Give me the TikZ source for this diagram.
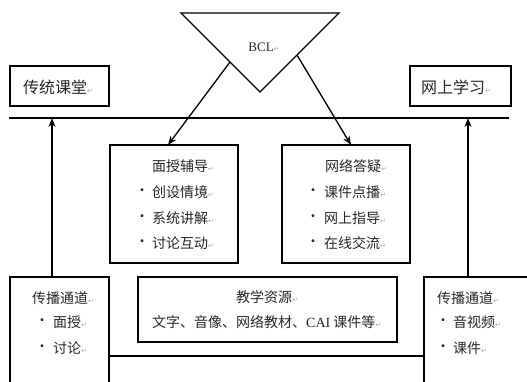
\documentclass[tikz,border=0pt]{standalone}
\usepackage{fontspec}
\setmainfont{Liberation Serif}
\newfontfamily\cjk{Noto Sans CJK SC}
\newfontfamily\dejavu{DejaVu Sans}
\usetikzlibrary{arrows.meta}
\newcommand\parmark{{\dejavu\fontsize{7pt}{8pt}\selectfont\color{gray!70}↵}}
\tikzset{
  box/.style={draw, line width=1.3pt, inner sep=0pt},
  txt/.style={font=\cjk\fontsize{14pt}{16pt}\selectfont, text=black!85, inner sep=0pt, anchor=west},
  bigtxt/.style={font=\cjk\fontsize{16pt}{18pt}\selectfont, text=black!85, inner sep=0pt, anchor=west},
  dot/.style={font=\cjk\fontsize{14pt}{16pt}\selectfont, text=black!85, inner sep=0pt},
  conn/.style={line width=1.3pt},
  arr/.style={conn, -{Stealth[length=9pt,width=7pt]}}
}
\begin{document}
\begin{tikzpicture}[x=1pt,y=-1pt]
\useasboundingbox (0,0) rectangle (527,381);
\clip (0,0) rectangle (527,381);
% triangle
\draw[conn, line join=miter] (181,13) -- (339,13) -- (260,92) -- cycle;
\coordinate (tl) at (230,62);
\coordinate (tr) at (297,55);
\node[inner sep=0pt, font=\fontsize{13pt}{15pt}\selectfont, text=black!85] (bcl) at (264,47) {BCL\parmark};
% top boxes
\node[box, minimum width=99pt, minimum height=40pt] (ctbox) at (59.5,86) {};
\node[bigtxt] (ct) at (23,87) {传统课堂\parmark};
\node[box, minimum width=101pt, minimum height=40pt] (wsbox) at (460.5,86) {};
\node[bigtxt] (ws) at (421,87) {网上学习\parmark};
% horizontal line
\coordinate (hl) at (9,118);
\coordinate (hr) at (509,118);
\draw[conn] (hl) -- (hr);
% middle boxes
\node[box, minimum width=128pt, minimum height=118pt] (ml) at (174,204) {};
\node[box, minimum width=128pt, minimum height=118pt] (mr) at (346,204) {};
\coordinate (mlt) at (168,145);
\coordinate (mrt) at (351,145);
\draw[arr] (tl) -- (mlt);
\draw[arr] (tr) -- (mrt);
\node[txt] (ml0) at (152,166) {面授辅导\parmark};
\node[dot] (mlb1) at (142,192) {·};
\node[txt] (ml1) at (152,192) {创设情境\parmark};
\node[dot] (mlb2) at (142,218) {·};
\node[txt] (ml2) at (152,218) {系统讲解\parmark};
\node[dot] (mlb3) at (142,243) {·};
\node[txt] (ml3) at (152,243) {讨论互动\parmark};
\node[txt] (mr0) at (325,166) {网络答疑\parmark};
\node[dot] (mrb1) at (313,192) {·};
\node[txt] (mr1) at (324,192) {课件点播\parmark};
\node[dot] (mrb2) at (313,218) {·};
\node[txt] (mr2) at (324,218) {网上指导\parmark};
\node[dot] (mrb3) at (313,243) {·};
\node[txt] (mr3) at (324,243) {在线交流\parmark};
% bottom boxes
\node[box, minimum width=99pt, minimum height=123pt] (bl) at (59.5,338.5) {};
\node[box, minimum width=116pt, minimum height=123pt] (br) at (482,338.5) {};
\node[box, minimum width=259pt, minimum height=65pt] (res) at (267.5,309.5) {};
\coordinate (by) at (0,356);
\draw[conn] (bl.east |- by) -- (br.west |- by);
\coordinate (lx) at (52,118);
\coordinate (rx) at (468,118);
\draw[arr] (bl.north -| lx) -- (lx);
\draw[arr] (br.north -| rx) -- (rx);
\node[txt] (bl0) at (32,298) {传播通道\parmark};
\node[dot] (blb1) at (42,322) {·};
\node[txt] (bl1) at (53,322) {面授\parmark};
\node[dot] (blb2) at (42,348) {·};
\node[txt] (bl2) at (53,348) {讨论\parmark};
\node[txt] (br0) at (437,298) {传播通道\parmark};
\node[dot] (brb1) at (443,322) {·};
\node[txt] (br1) at (453,322) {音视频\parmark};
\node[dot] (brb2) at (443,348) {·};
\node[txt] (br2) at (453,348) {课件\parmark};
\node[txt] (res0) at (236,297) {教学资源\parmark};
\node[txt] (res1) at (152,322) {文字、音像、网络教材、{\rmfamily CAI} 课件等\parmark};
\end{tikzpicture}
\end{document}
